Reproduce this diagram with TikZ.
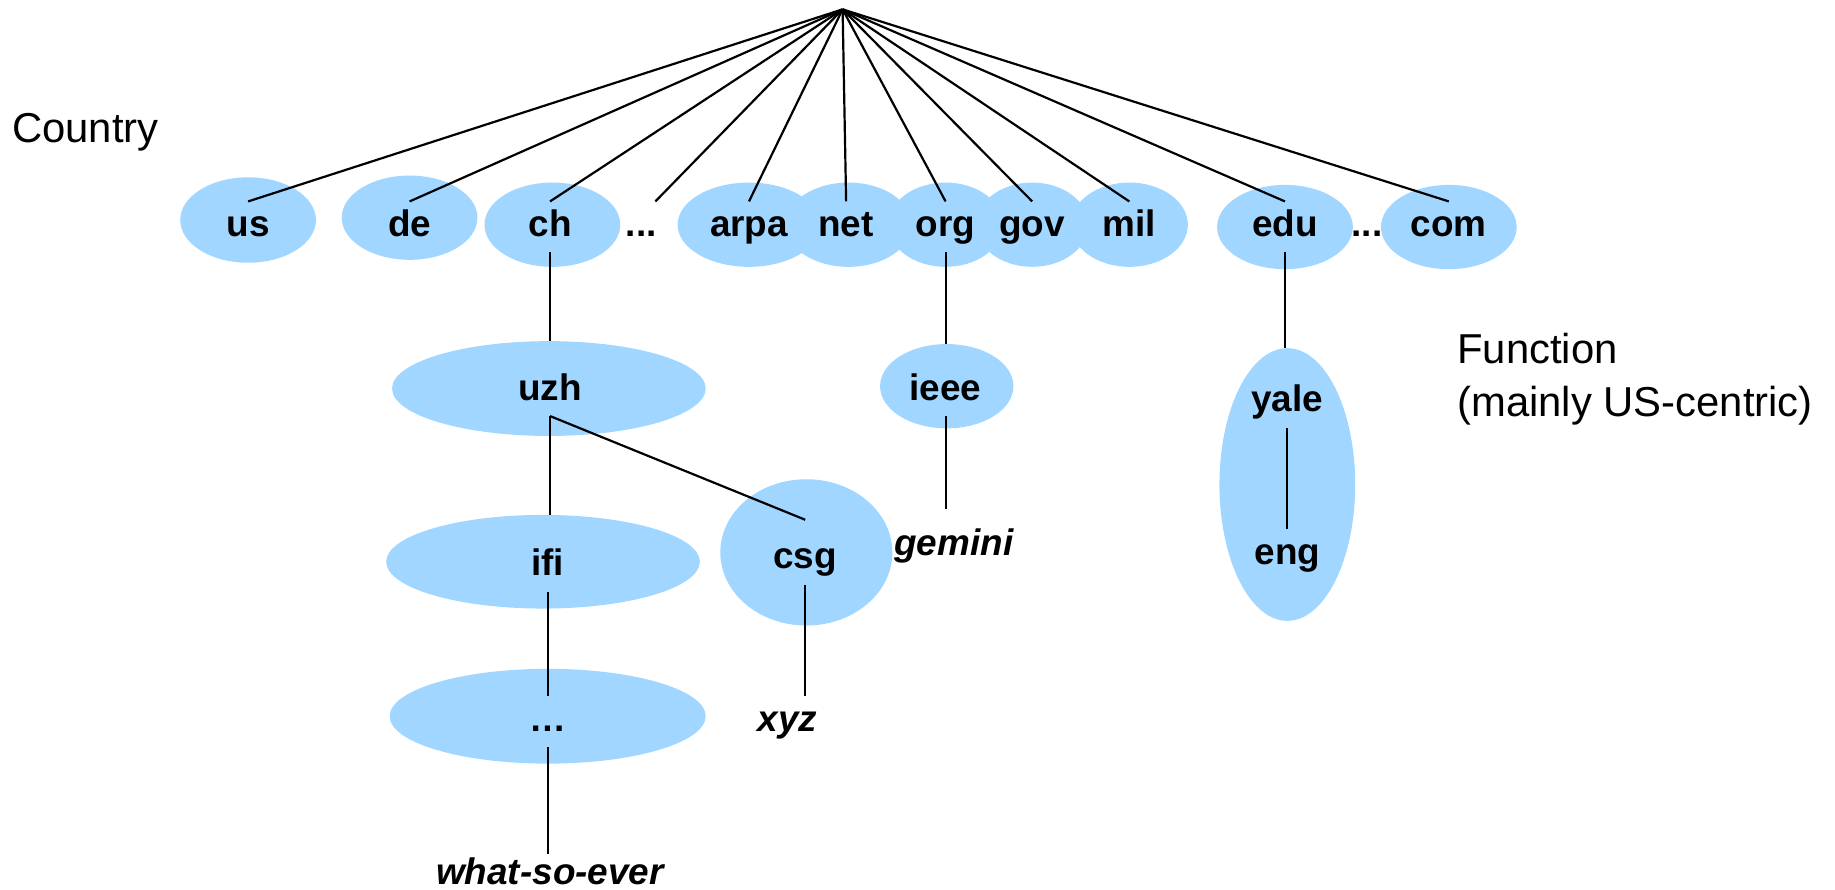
\documentclass[tikz,border=0pt]{standalone}
\usepackage{fontspec}
\setmainfont{Liberation Sans}
\usetikzlibrary{shapes.geometric}
\definecolor{blobblue}{RGB}{160,214,255}
\newcommand\pxu{0.023406cm}

\begin{document}
\begin{tikzpicture}[x=0.023406cm, y=-0.023406cm,
  blob/.style={ellipse, fill=blobblue, draw=none, inner sep=0pt, outer sep=0pt},
  lbl/.style={font=\fontsize{21pt}{25pt}\selectfont\bfseries, anchor=base,
              inner sep=4.6pt, text height=15.1pt, text depth=4.2pt},
  leaf/.style={lbl, font=\fontsize{21pt}{25pt}\selectfont\bfseries\itshape},
  caption/.style={font=\fontsize{23.8pt}{30.5pt}\selectfont, inner sep=0pt},
  link/.style={line width=1.25pt}]
\useasboundingbox (0,0) rectangle (1568,760);

% ---- ellipses ----
\node[blob, minimum width=116*\pxu, minimum height=73*\pxu] (us-bg)   at (212,188) {};
\node[blob, minimum width=116*\pxu, minimum height=72*\pxu] (de-bg)   at (350,186) {};
\node[blob, minimum width=116*\pxu, minimum height=72*\pxu] (ch-bg)   at (472,192) {};
\node[blob, minimum width=122*\pxu, minimum height=72*\pxu] (arpa-bg) at (640,192) {};
\node[blob, minimum width=108*\pxu, minimum height=72*\pxu] (net-bg)  at (725,192) {};
\node[blob, minimum width=98*\pxu,  minimum height=72*\pxu] (org-bg)  at (808,192) {};
\node[blob, minimum width=96*\pxu,  minimum height=72*\pxu] (gov-bg)  at (882,192) {};
\node[blob, minimum width=100*\pxu, minimum height=72*\pxu] (mil-bg)  at (965,192) {};
\node[blob, minimum width=116*\pxu, minimum height=72*\pxu] (edu-bg)  at (1098,194) {};
\node[blob, minimum width=116*\pxu, minimum height=72*\pxu] (com-bg)  at (1238,194) {};
\node[blob, minimum width=268*\pxu, minimum height=81*\pxu] (uzh-bg)  at (469,332) {};
\node[blob, minimum width=114*\pxu, minimum height=72*\pxu] (ieee-bg) at (809,330) {};
\node[blob, minimum width=268*\pxu, minimum height=80*\pxu] (ifi-bg)  at (464,480) {};
\node[blob, minimum width=147*\pxu, minimum height=125*\pxu] (csg-bg) at (689,472) {};
\node[blob, minimum width=270*\pxu, minimum height=81*\pxu] (ell-bg)  at (468,612) {};
\node[blob, minimum width=116*\pxu, minimum height=233*\pxu] (yale-bg) at (1100,414) {};

% ---- labels ----
\node[lbl] (us)   at (212,202) {us};
\node[lbl] (de)   at (350,202) {de};
\node[lbl] (ch)   at (470,202) {ch};
\node[lbl] (dots1) at (548,202) {...};
\node[lbl] (arpa) at (640,202) {arpa};
\node[lbl] (net)  at (723,202) {net};
\node[lbl] (org)  at (808,202) {org};
\node[lbl] (gov)  at (882,202) {gov};
\node[lbl] (mil)  at (965,202) {mil};
\node[lbl] (edu)  at (1098,202) {edu};
\node[lbl] (dots2) at (1168,202) {...};
\node[lbl] (com)  at (1238,202) {com};
\node[lbl] (uzh)  at (470,342) {uzh};
\node[lbl] (ieee) at (808,342) {ieee};
\node[lbl] (ifi)  at (468,492) {ifi};
\node[lbl] (csg)  at (688,486) {csg};
\node[lbl] (ell)  at (468,625) {…};
\node[lbl] (yale) at (1100,352) {yale};
\node[lbl] (eng)  at (1100,482) {eng};
\node[leaf] (gemini) at (815,475) {gemini};
\node[leaf] (xyz)    at (673,625) {xyz};
\node[leaf, inner sep=0pt, text depth=0pt] (wse) at (470,756) {what-so-ever};

\node[caption, anchor=base west] (country) at (10,122) {Country};
\node[caption, anchor=north west, align=left] (function) at (1245,284)
  {Function\\(mainly US-centric)};

% ---- connectors ----
\coordinate (root) at (720,8);
\draw[link] (root) -- (us.north);
\draw[link] (root) -- (de.north);
\draw[link] (root) -- (ch.north);
\draw[link] (root) -- ([xshift=8pt]dots1.north);
\draw[link] (root) -- (arpa.north);
\draw[link] (root) -- (net.north);
\draw[link] (root) -- (org.north);
\draw[link] (root) -- (gov.north);
\draw[link] (root) -- (mil.north);
\draw[link] (root) -- (edu.north);
\draw[link] (root) -- (com.north);

\path (ieee.south |- gemini.north) coordinate (gemtop);
\draw[link] (ch.south) -- (ch.south |- uzh-bg.north);
\draw[link] (uzh.south) -- (uzh.south |- ifi-bg.north);
\draw[link] (uzh.south) -- ([yshift=8pt]csg.north);
\draw[link] (ell.north -| ifi.south) -- (ifi.south);
\draw[link] (ell.south) -- ([yshift=2pt]ell.south |- wse.north);
\draw[link] (csg.south) -- (csg.south |- xyz.north);
\draw[link] (org.south) -- (org.south |- ieee-bg.north);
\draw[link] (ieee.south) -- ([yshift=6.6pt]gemtop);
\draw[link] (edu.south) -- (edu.south |- yale-bg.north);
\draw[link] (yale.south) -- (eng.north);
\end{tikzpicture}
\end{document}
